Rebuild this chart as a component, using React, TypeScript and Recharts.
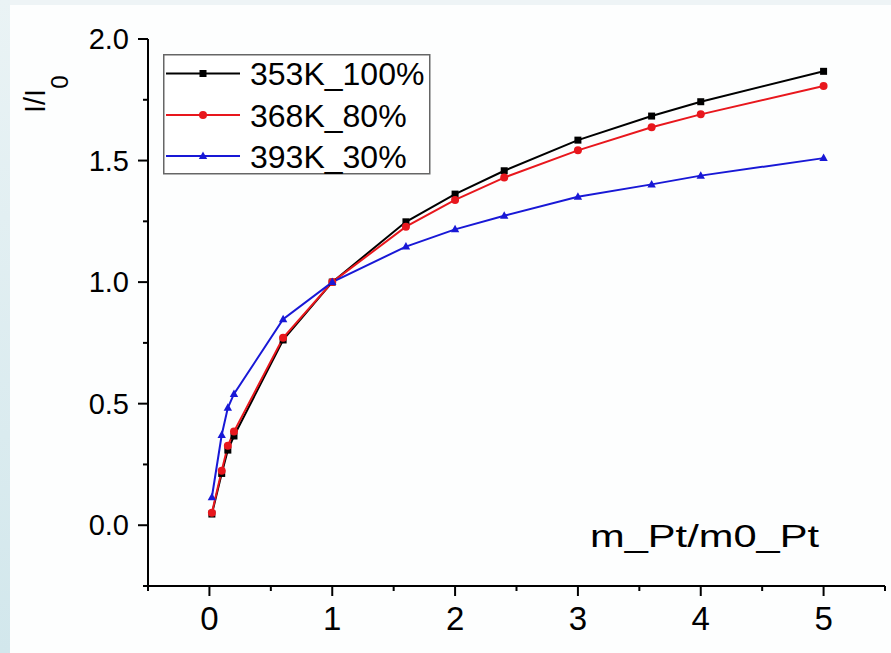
import React from 'react';
import { LineChart, Line, XAxis, YAxis, Legend } from 'recharts';

const xValues = [0.02, 0.1, 0.15, 0.2, 0.6, 1, 1.6, 2, 2.4, 3, 3.6, 4, 5];
const s353 = [0.046, 0.213, 0.309, 0.367, 0.762, 1.0, 1.248, 1.362, 1.458, 1.584, 1.683, 1.742, 1.867];
const s368 = [0.051, 0.224, 0.327, 0.385, 0.771, 1.0, 1.228, 1.338, 1.43, 1.542, 1.637, 1.69, 1.807];
const s393 = [0.115, 0.371, 0.483, 0.54, 0.847, 1.0, 1.146, 1.217, 1.273, 1.351, 1.402, 1.438, 1.51];
const seriesNames = ['353K_100%', '368K_80%', '393K_30%'];
const xTicks = [-0.5, 0, 0.5, 1, 1.5, 2, 2.5, 3, 3.5, 4, 4.5, 5, 5.5];
const yTicks = [-0.25, 0, 0.25, 0.5, 0.75, 1, 1.25, 1.5, 1.75, 2];

const data = xValues.map((x, i) => ({ x, a: s353[i], b: s368[i], c: s393[i] }));

const BLACK = '#000000';
const RED = '#e8171d';
const BLUE = '#1818d6';
const FONT = '"Liberation Sans", Arial, sans-serif';

const XTick = (props: any) => {
  const { x, y, payload } = props;
  const v = payload.value;
  const major = Math.abs(v - Math.round(v)) < 1e-6;
  return (
    <g>
      <line x1={x} x2={x} y1={y} y2={y + (major ? 10 : 5)} stroke="#000" strokeWidth={2} />
      {major && (
        <text x={x} y={y + 44} textAnchor="middle" fontSize={33} fontFamily={FONT} fill="#000">
          {String(v)}
        </text>
      )}
    </g>
  );
};

const YTick = (props: any) => {
  const { x, y, payload } = props;
  const v = payload.value;
  const major = Math.abs(v * 2 - Math.round(v * 2)) < 1e-6;
  return (
    <g>
      <line x1={x} x2={x - (major ? 10 : 5)} y1={y} y2={y} stroke="#000" strokeWidth={2} />
      {major && (
        <text x={x - 19} y={y + 10} textAnchor="end" fontSize={29} fontFamily={FONT} fill="#000">
          {v.toFixed(1)}
        </text>
      )}
    </g>
  );
};

const SquareDot = (props: any) => {
  const { cx, cy } = props;
  return <rect x={cx - 3.5} y={cy - 3.5} width={7} height={7} fill={BLACK} />;
};
const CircleDot = (props: any) => {
  const { cx, cy } = props;
  return <circle cx={cx} cy={cy} r={4} fill={RED} />;
};
const TriDot = (props: any) => {
  const { cx, cy } = props;
  return <path d={`M${cx},${cy - 4.5} L${cx + 4.2},${cy + 3} L${cx - 4.2},${cy + 3} Z`} fill={BLUE} />;
};

const renderLegend = () => {
  const rows = [
    { name: seriesNames[0], color: BLACK, kind: 's' },
    { name: seriesNames[1], color: RED, kind: 'c' },
    { name: seriesNames[2], color: BLUE, kind: 't' },
  ];
  const ys = [19.5, 61, 102];
  return (
    <svg width={268} height={121} style={{ display: 'block' }}>
      <rect x={0.75} y={0.75} width={266} height={119} fill="#fff" stroke="#666" strokeWidth={1.5} />
      {rows.map((r, i) => {
        const cy = ys[i];
        return (
          <g key={r.name}>
            <line x1={3} x2={77} y1={cy} y2={cy} stroke={r.color} strokeWidth={2} />
            {r.kind === 's' && <SquareDot cx={40} cy={cy} />}
            {r.kind === 'c' && <CircleDot cx={40} cy={cy} />}
            {r.kind === 't' && <TriDot cx={40} cy={cy} />}
            <text x={87} y={cy + 11.5} fontSize={32} fontFamily={FONT} fill="#000">
              {r.name}
            </text>
          </g>
        );
      })}
    </svg>
  );
};

export default function App() {
  return (
    <div style={{ position: 'absolute', left: 0, top: 0, width: 891, height: 653, background: '#fdfefe', overflow: 'hidden' }}>
      <div style={{ position: 'absolute', left: 0, top: 0, width: 891, height: 5, background: '#eef4f6' }} />
      <div
        style={{
          position: 'absolute',
          left: 0,
          top: 0,
          width: 10,
          height: 653,
          background: 'linear-gradient(to bottom, #eaf3f5, #d2e7ec)',
        }}
      />
      <div style={{ position: 'absolute', left: 0, top: 0 }}>
        <LineChart width={891} height={653} data={data} margin={{ top: 39, right: 6, bottom: 27, left: 88 }}>
          <XAxis
            dataKey="x"
            type="number"
            domain={[-0.5, 5.5]}
            ticks={xTicks}
            allowDataOverflow
            height={40}
            tickSize={0}
            tickMargin={0}
            tickLine={false}
            axisLine={{ stroke: '#000', strokeWidth: 2 }}
            tick={<XTick />}
            interval={0}
          />
          <YAxis
            type="number"
            domain={[-0.25, 2]}
            ticks={yTicks}
            allowDataOverflow
            width={60}
            tickSize={0}
            tickMargin={0}
            tickLine={false}
            axisLine={{ stroke: '#000', strokeWidth: 2 }}
            tick={<YTick />}
            interval={0}
          />
          <Legend
            layout="vertical"
            align="center"
            verticalAlign="middle"
            content={renderLegend}
            wrapperStyle={{ left: 163, top: 54, width: 268, height: 121 }}
          />
          <Line dataKey="a" name={seriesNames[0]} stroke={BLACK} strokeWidth={2} dot={<SquareDot />} isAnimationActive={false} />
          <Line dataKey="b" name={seriesNames[1]} stroke={RED} strokeWidth={2} dot={<CircleDot />} isAnimationActive={false} />
          <Line dataKey="c" name={seriesNames[2]} stroke={BLUE} strokeWidth={2} dot={<TriDot />} isAnimationActive={false} />
        </LineChart>
      </div>
      <svg width={891} height={653} style={{ position: 'absolute', left: 0, top: 0, pointerEvents: 'none' }}>
        <text transform="rotate(-90)" x={-113} y={45} fontSize={29} fontFamily={FONT} fill="#000">
          I/I
          <tspan fontSize={24} dy={23}>0</tspan>
        </text>
        <text x={590} y={547} fontSize={32} fontFamily={FONT} fill="#000" textLength={229} lengthAdjust="spacingAndGlyphs">
          m_Pt/m0_Pt
        </text>
      </svg>
    </div>
  );
}
